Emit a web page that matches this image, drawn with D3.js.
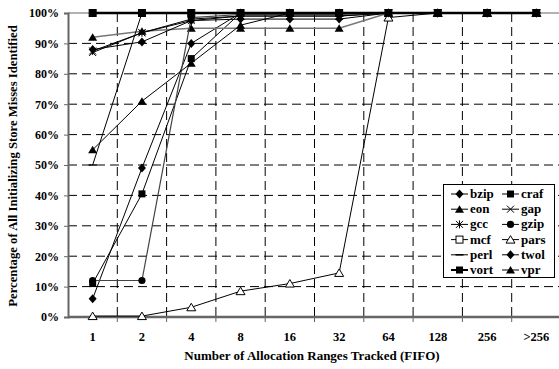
<!DOCTYPE html>
<html>
<head>
<meta charset="utf-8">
<script src="https://cdnjs.cloudflare.com/ajax/libs/d3/7.8.5/d3.min.js"></script>
<style>
  body { margin: 0; background: #fff; }
  svg text { font-family: "Liberation Serif", "Times New Roman", serif; font-weight: bold; }
</style>
</head>
<body>
<svg id="chart" width="559" height="369"></svg>
<script>
// Categories (allocation ranges tracked)
const ranges = ["1", "2", "4", "8", "16", "32", "64", "128", "256", ">256"];
const yTicks = [0, 10, 20, 30, 40, 50, 60, 70, 80, 90, 100];

// Series values (%)
const bzip = [6, 49, 90, 100, 100, 100, 100, 100, 100, 100];
const craf = [11, 40.5, 85, 100, 100, 100, 100, 100, 100, 100];
const eon  = [92, 94, 95, 95, 95, 95, 100, 100, 100, 100];
const gap  = [87, 93.5, 98, 99, 99, 99, 100, 100, 100, 100];
const gcc  = [87.5, 93.5, 97.5, 99, 99, 99, 100, 100, 100, 100];
const gzip = [12, 12, 98.5, 99.5, 99.5, 99.5, 100, 100, 100, 100];
const mcf  = [100, 100, 100, 100, 100, 100, 100, 100, 100, 100];
const pars = [0.3, 0.3, 3.2, 8.5, 11, 14.5, 98.5, 100, 100, 100];
const perl = [50, 100, 100, 100, 100, 100, 100, 100, 100, 100];
const twol = [88, 90.5, 97.5, 98, 98, 98, 100, 100, 100, 100];
const vort = [100, 100, 100, 100, 100, 100, 100, 100, 100, 100];
const vpr  = [55, 71, 83.5, 96, 100, 100, 100, 100, 100, 100];

const series = [
  { name: "bzip", values: bzip, marker: "diamond", color: "#000", w: 1 },
  { name: "craf", values: craf, marker: "square", color: "#000", w: 1 },
  { name: "eon",  values: eon,  marker: "triangle", color: "#777", w: 1.5 },
  { name: "gap",  values: gap,  marker: "x", color: "#000", w: 1 },
  { name: "gcc",  values: gcc,  marker: "star", color: "#000", w: 1 },
  { name: "gzip", values: gzip, marker: "circle", color: "#444", w: 1.2 },
  { name: "mcf",  values: mcf,  marker: "osquare", color: "#000", w: 1 },
  { name: "pars", values: pars, marker: "otriangle", color: "#000", w: 1 },
  { name: "perl", values: perl, marker: "dash", color: "#000", w: 1 },
  { name: "twol", values: twol, marker: "diamond", color: "#000", w: 1 },
  { name: "vort", values: vort, marker: "square", color: "#000", w: 2.5 },
  { name: "vpr",  values: vpr,  marker: "triangle", color: "#000", w: 1 }
];

const svg = d3.select("#chart");
const plotL = 68, plotR = 561, plotT = 13, plotB = 317;

const x = d3.scaleBand().domain(ranges).range([plotL, plotR]);
const y = d3.scaleLinear().domain([0, 100]).range([plotB, plotT]);
const cx = d => x(d) + x.bandwidth() / 2;

// gridlines
svg.append("g").selectAll("line")
  .data(yTicks.filter(t => t > 0 && t < 100))
  .enter().append("line")
  .attr("x1", plotL).attr("x2", 559)
  .attr("y1", d => y(d)).attr("y2", d => y(d))
  .attr("stroke", "#000").attr("stroke-dasharray", "9,5");

svg.append("g").selectAll("line")
  .data(ranges.slice(1))
  .enter().append("line")
  .attr("x1", d => x(d)).attr("x2", d => x(d))
  .attr("y1", plotT).attr("y2", plotB)
  .attr("stroke", "#000").attr("stroke-dasharray", "9,5");

svg.append("line")
  .attr("x1", plotL).attr("x2", 559).attr("y1", y(100)).attr("y2", y(100))
  .attr("stroke", "#999").attr("stroke-width", 1.5);

// axes
const yAxis = svg.append("g")
  .attr("transform", `translate(${plotL},0)`)
  .call(d3.axisLeft(y).tickValues(yTicks).tickFormat(d => d + "%").tickSize(4).tickPadding(5));
yAxis.attr("font-family", null).attr("font-size", null);
yAxis.select(".domain").attr("stroke", "#666").attr("stroke-width", 2);
yAxis.selectAll(".tick line").attr("stroke", "#666");
yAxis.selectAll("text").style("font-size", "12px");

const xAxis = svg.append("g")
  .attr("transform", `translate(0,${plotB})`)
  .call(d3.axisBottom(x).tickSize(0).tickPadding(15));
xAxis.attr("font-family", null).attr("font-size", null);
xAxis.select(".domain").attr("stroke", "#666").attr("stroke-width", 2.5).attr("d", `M${plotL},0H559`);
xAxis.selectAll("text").style("font-size", "12.5px");
xAxis.selectAll(".bnd").data(ranges.slice(1)).enter().append("line")
  .attr("x1", d => x(d)).attr("x2", d => x(d)).attr("y1", 0).attr("y2", 5)
  .attr("stroke", "#666");

// titles
svg.append("text")
  .attr("x", 312).attr("y", 360)
  .attr("text-anchor", "middle")
  .style("font-size", "13px")
  .text("Number of Allocation Ranges Tracked (FIFO)");

svg.append("text")
  .attr("transform", "translate(17,166) rotate(-90)")
  .attr("text-anchor", "middle")
  .style("font-size", "12.7px")
  .text("Percentage of All Initializing Store Misses Identified");

// marker drawing
function drawMarker(g, type, px, py) {
  const s = 3.5;
  switch (type) {
    case "diamond":
      g.append("path").attr("d", `M${px},${py - 4.5}L${px + 4},${py}L${px},${py + 4.5}L${px - 4},${py}Z`).attr("fill", "#000");
      break;
    case "square":
      g.append("rect").attr("x", px - s).attr("y", py - s).attr("width", 2 * s).attr("height", 2 * s).attr("fill", "#000");
      break;
    case "osquare":
      g.append("rect").attr("x", px - s).attr("y", py - s).attr("width", 2 * s).attr("height", 2 * s).attr("fill", "#fff").attr("stroke", "#000");
      break;
    case "triangle":
      g.append("path").attr("d", `M${px},${py - 4}L${px + 4.5},${py + 3.5}L${px - 4.5},${py + 3.5}Z`).attr("fill", "#000");
      break;
    case "otriangle":
      g.append("path").attr("d", `M${px},${py - 4}L${px + 4.5},${py + 3.5}L${px - 4.5},${py + 3.5}Z`).attr("fill", "#fff").attr("stroke", "#000");
      break;
    case "circle":
      g.append("circle").attr("cx", px).attr("cy", py).attr("r", 3.6).attr("fill", "#000");
      break;
    case "x":
      g.append("path").attr("d", `M${px - s},${py - s}L${px + s},${py + s}M${px - s},${py + s}L${px + s},${py - s}`).attr("stroke", "#000").attr("stroke-width", 1);
      break;
    case "star":
      g.append("path").attr("d", `M${px - s},${py - s}L${px + s},${py + s}M${px - s},${py + s}L${px + s},${py - s}M${px},${py - s - 0.5}L${px},${py + s + 0.5}`).attr("stroke", "#000").attr("stroke-width", 1);
      break;
    case "dash":
      g.append("line").attr("x1", px - 4).attr("x2", px + 4).attr("y1", py).attr("y2", py).attr("stroke", "#000").attr("stroke-width", 1.5);
      break;
  }
}

const line = d3.line().x((d, i) => cx(ranges[i])).y(d => y(d));

// draw series in order so later ones sit on top
series.forEach(s => {
  const g = svg.append("g");
  g.append("path")
    .datum(s.values)
    .attr("d", line)
    .attr("fill", "none")
    .attr("stroke", s.color)
    .attr("stroke-width", s.w);
  s.values.forEach((v, i) => drawMarker(g, s.marker, cx(ranges[i]), y(v)));
});

// legend
const lg = svg.append("g");
lg.append("rect")
  .attr("x", 443.5).attr("y", 184.5).attr("width", 111).attr("height", 93)
  .attr("fill", "#fff").attr("stroke", "#000");

series.forEach((s, i) => {
  const col = i % 2, row = Math.floor(i / 2);
  const lx = 451 + col * 51, ly = 194 + row * 15.2;
  const g = lg.append("g");
  g.append("line").attr("x1", lx).attr("x2", lx + 17).attr("y1", ly).attr("y2", ly)
    .attr("stroke", "#000").attr("stroke-width", s.name === "vort" ? 2 : 1);
  drawMarker(g, s.marker, lx + 8.5, ly);
  g.append("text").attr("x", lx + 19).attr("y", ly + 4)
    .style("font-size", "13px").text(s.name);
});
</script>
</body>
</html>
